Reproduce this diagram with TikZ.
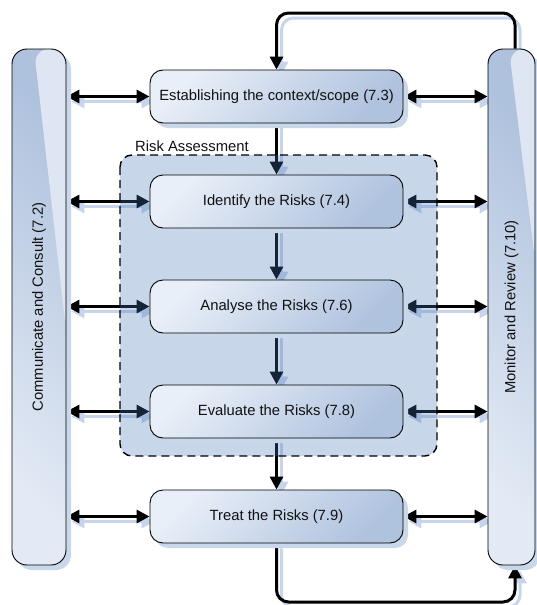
\documentclass[tikz,border=0pt]{standalone}
\usepackage{fontspec}
\setmainfont{Liberation Sans}
\usetikzlibrary{arrows.meta,shadows,calc}
\definecolor{boxlight}{HTML}{E9EFF8}
\definecolor{boxdark}{HTML}{AFC2DE}
\definecolor{shadowc}{HTML}{C9D7EB}
\definecolor{shadowline}{HTML}{C6D5EB}
\definecolor{barlight}{HTML}{E3EAF5}
\definecolor{bardark}{HTML}{AFC2DD}
\definecolor{glass}{HTML}{DDE6F2}
\definecolor{grpc}{RGB}{72,118,185}
\definecolor{txt}{HTML}{111111}
\pgfdeclarelayer{conn}
\pgfdeclarelayer{grp}
\pgfdeclarelayer{fg}
\pgfsetlayers{conn,grp,main,fg}
\newcommand\drawconns[1]{%
  \draw[dbl,#1] (lb.east |- ctx.west) -- (ctx.west);
  \draw[dbl,#1] (lb.east |- id.west) -- (id.west);
  \draw[dbl,#1] (lb.east |- an.west) -- (an.west);
  \draw[dbl,#1] (lb.east |- ev.west) -- (ev.west);
  \draw[dbl,#1] (lb.east |- tr.west) -- (tr.west);
  \draw[dbl,#1] (ctx.east) -- (rb.west |- ctx.east);
  \draw[dbl,#1] (id.east) -- (rb.west |- id.east);
  \draw[dbl,#1] (an.east) -- (rb.west |- an.east);
  \draw[dbl,#1] (ev.east) -- (rb.west |- ev.east);
  \draw[dbl,#1] (tr.east) -- (rb.west |- tr.east);
  \draw[arr,#1] (ctx.south) -- (id.north);
  \draw[arr,#1] (id.south) -- (an.north);
  \draw[arr,#1] (an.south) -- (ev.north);
  \draw[arr,#1] (ev.south) -- (tr.north);
  \draw[arr,#1,rounded corners=12pt] (rbt) -- (rbt |- topy) -- (ctx.north |- topy) -- (ctx.north);
  \draw[arr,#1,rounded corners=12pt] (tr.south) -- (tr.south |- boty) -- (rbb |- boty) -- (rbb);
}
\begin{document}
\begin{tikzpicture}[x=1pt,y=-1pt,
  every node/.style={font=\fontsize{14.8}{17}\selectfont, text=txt},
  stepbox/.style={draw=black, line width=0.9pt, rounded corners=13pt,
    minimum width=253pt, minimum height=53pt, inner sep=0pt,
    top color=boxlight, bottom color=boxdark, shading angle=45,
    drop shadow={shadow xshift=5pt, shadow yshift=-5pt, fill=shadowc, opacity=1}},
  barbox/.style={draw=black, line width=0.9pt, rounded corners=15pt,
    minimum height=516pt, inner sep=0pt,
    top color=bardark, bottom color=barlight, shading angle=-45,
    drop shadow={shadow xshift=5pt, shadow yshift=-5pt, fill=shadowc, opacity=1}},
  conn/.style={line width=3pt, draw=black},
  arr/.style={conn, -{Triangle[length=13pt,width=13pt]}},
  dbl/.style={conn, {Triangle[length=13pt,width=13pt]}-{Triangle[length=13pt,width=13pt]}},
  grpfill/.style={fill=grpc, fill opacity=0.3, rounded corners=12pt, minimum width=317pt, minimum height=301pt, inner sep=0pt, outer sep=0pt},
  grpborder/.style={draw=black, line width=1.4pt, dash pattern=on 8pt off 5pt, rounded corners=12pt}
]
\useasboundingbox (0,0) rectangle (536,605);

% side bars
\node[barbox, minimum width=54pt,
  path picture={\fill[glass] ([xshift=22pt]path picture bounding box.north west) -- (path picture bounding box.north east) -- ([yshift=-281pt]path picture bounding box.north east) -- cycle;}]
  (lb) at (39,307) {};
\node[rotate=90] (lbt) at (lb.center) {Communicate and Consult (7.2)};
\node[barbox, minimum width=47pt,
  path picture={\fill[glass] ([xshift=21pt]path picture bounding box.north west) -- (path picture bounding box.north east) -- ([yshift=-211pt]path picture bounding box.north east) -- cycle;}]
  (rb) at (511.5,307) {};
\node[rotate=90] (rbtx) at (rb.center) {Monitor and Review (7.10)};

% group
\begin{pgfonlayer}{grp}
\node[grpfill] (grp) at (278.5,305.5) {};
\end{pgfonlayer}
\begin{pgfonlayer}{fg}
\draw[grpborder] (grp.north west) rectangle (grp.south east);
\end{pgfonlayer}
\node[anchor=base west, inner sep=0pt] (ral) at (135,151) {Risk Assessment};

% steps
\node[stepbox] (ctx) at (276.5,96.5) {Establishing the context/scope (7.3)};
\node[stepbox] (id) at (276.5,201.5) {Identify the Risks (7.4)};
\node[stepbox] (an) at (276.5,306.5) {Analyse the Risks (7.6)};
\node[stepbox] (ev) at (276.5,411.5) {Evaluate the Risks (7.8)};
\node[stepbox] (tr) at (276.5,516.5) {Treat the Risks (7.9)};

\coordinate (topy) at (0,13);
\coordinate (boty) at (0,602);
\coordinate (rbt) at ([xshift=3.5pt]rb.north);
\coordinate (rbb) at ([xshift=3.5pt]rb.south);

\begin{pgfonlayer}{conn}
\begin{scope}[transform canvas={shift={(5pt,-5pt)}}]
\drawconns{draw=shadowline}
\end{scope}
\drawconns{}
\end{pgfonlayer}
\end{tikzpicture}
\end{document}
